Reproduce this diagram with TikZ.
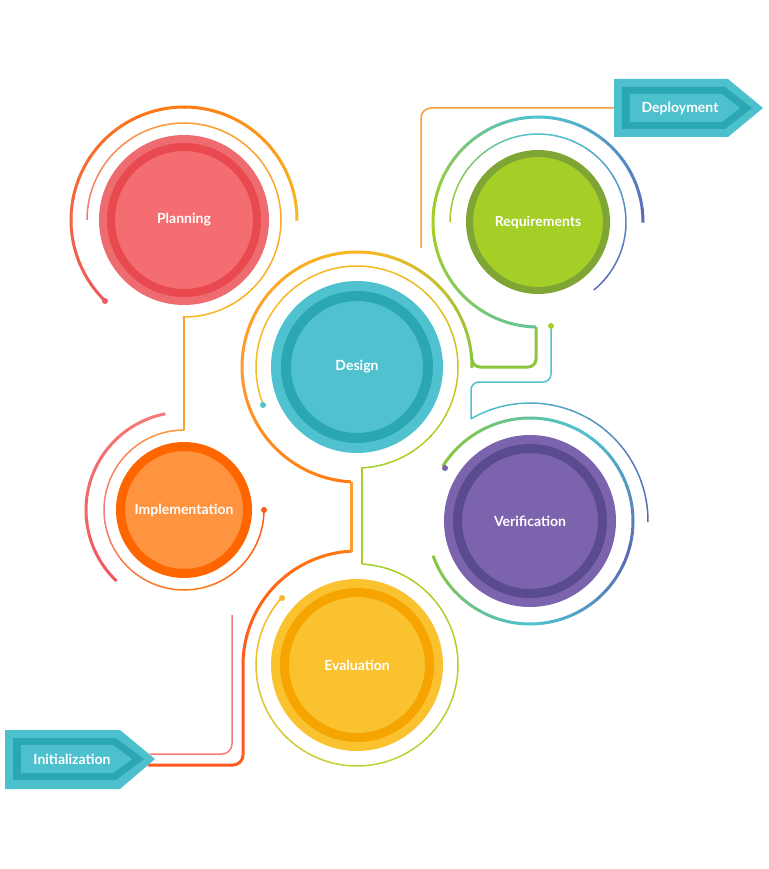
\documentclass[tikz,border=0pt]{standalone}
\usepackage{fontspec}
\setmainfont{Lato}
\definecolor{tagL}{HTML}{4DC0CE}
\definecolor{tagD}{HTML}{2AA7B2}
\definecolor{cRed}{HTML}{EE5A5E}
\definecolor{cSal}{HTML}{F47C78}
\definecolor{cOrR}{HTML}{FF5A1F}
\definecolor{cOr}{HTML}{FF7A10}
\definecolor{cOr2}{HTML}{FF9A30}
\definecolor{cYel}{HTML}{F9B823}
\definecolor{cYG}{HTML}{C2D238}
\definecolor{cGr}{HTML}{8CC63F}
\definecolor{cLime}{HTML}{A5CE26}
\definecolor{cTG}{HTML}{62C59A}
\definecolor{cTeal}{HTML}{4FC1CF}
\definecolor{cBlue}{HTML}{5A6BB5}
\definecolor{cPur}{HTML}{7B63AD}
\definecolor{cPurD}{HTML}{5A4A8E}
\definecolor{plO}{HTML}{EE6B70}
\definecolor{plI}{HTML}{F46E71}
\definecolor{plD}{HTML}{E84A4F}
\definecolor{imI}{HTML}{FF9440}
\definecolor{imD}{HTML}{FF6600}
\definecolor{rqD}{HTML}{7FA535}
\definecolor{evO}{HTML}{FBC22F}
\definecolor{evD}{HTML}{F6A400}
\newcommand\garc[8]{%
 \foreach \i in {0,...,11}{%
  \pgfmathsetmacro\sa{#4+(#5-#4)*\i/12}%
  \pgfmathsetmacro\ea{#4+(#5-#4)*(\i+1.05)/12}%
  \pgfmathtruncatemacro\pc{100*\i/11}%
  \draw[line width=#8, color=#7!\pc!#6] (#1,#2) ++(\sa:#3) arc[start angle=\sa, end angle=\ea, radius=#3];
 }}
\tikzset{
 lbl/.style={text=white,font=\bfseries\fontsize{14}{16}\selectfont},
 ball/.style={circle,inner sep=0pt,lbl},
 dotm/.style={circle,inner sep=0pt,minimum size=6pt},
 thin/.style={line width=1.5pt},
 thick/.style={line width=3pt},
}
\begin{document}
\begin{tikzpicture}[x=1pt,y=-1pt]
\useasboundingbox (0,0) rectangle (768,869);
% ---- Planning arcs
\garc{184}{220}{113}{134}{270}{cRed}{cOr}{3pt}
\garc{184}{220}{113}{270}{360}{cOr}{cYel}{3pt}
\node[dotm,fill=cRed] (pdot) at (105,301) {};
\garc{184}{220}{97}{180}{270}{cSal}{cOr2}{1.5pt}
\garc{184}{220}{97}{270}{450}{cOr2}{cYel}{1.5pt}
\draw[thin,cOr2] (184,317) -- (184,430);
% ---- Implementation arcs
\garc{184}{510}{98}{259}{134}{cSal}{cRed}{3pt}
\garc{184}{510}{80}{270}{180}{cOr2}{cSal}{1.5pt}
\garc{184}{510}{80}{180}{90}{cSal}{cOr}{1.5pt}
\garc{184}{510}{80}{90}{0}{cOr}{cOrR}{1.5pt}
\node[dotm,fill=cOrR] (idot) at (264,510) {};
% ---- Initialization lines
\draw[thin,cSal,rounded corners=10] (150,754) -| (232,615);
\draw[thick,cOrR,rounded corners=10] (148,765) -| (243,665);
% ---- long thick path
\garc{357}{665}{114}{180}{267}{cOrR}{cOr}{3pt}
\draw[thick,cOr2] (351,552) -- (351,482);
\garc{357}{367}{115}{93}{180}{cOr}{cOr2}{3pt}
\garc{357}{367}{115}{180}{270}{cOr2}{cYel}{3pt}
\garc{357}{367}{115}{270}{360}{cYel}{cGr}{3pt}
\draw[thick,cGr,rounded corners=8] (472,366) |- (536,367) -- (536,327);
\garc{538}{222}{105}{91}{180}{cTG}{cLime}{3pt}
\garc{538}{222}{105}{180}{270}{cLime}{cTeal}{3pt}
\garc{538}{222}{105}{270}{360}{cTeal}{cBlue}{3pt}
% ---- Deployment line
\draw[thin,cOr2,rounded corners=10] (614,108) -| (421,248);
% ---- Requirements inner
\garc{538}{222}{88}{180}{270}{cLime}{cTeal}{1.5pt}
\garc{538}{222}{88}{270}{410}{cTeal}{cBlue}{1.5pt}
% ---- Verification
\node[dotm,fill=cLime] (rdot) at (551,326) {};
\draw[thin,cTeal,rounded corners=8] (rdot) |- (471,382) -- (471,419);
\garc{530}{521}{118}{240}{360}{cTeal}{cBlue}{1.5pt}
\garc{530}{521}{103}{212}{300}{cGr}{cTeal}{3pt}
\garc{530}{521}{103}{300}{380}{cTeal}{cBlue}{3pt}
\garc{530}{521}{103}{380}{450}{cBlue}{cTeal}{3pt}
\garc{530}{521}{103}{450}{520}{cTeal}{cGr}{3pt}
\node[dotm,fill=cPur] (vdot) at (445,468) {};
% ---- Design inner / Evaluation inner
\garc{357}{367}{101}{158}{270}{cYel}{cYel}{1.5pt}
\garc{357}{367}{101}{270}{447}{cYel}{cLime}{1.5pt}
\node[dotm,fill=cTeal] (ddot) at (263,405) {};
\draw[thin,cLime] (362,468) -- (362,564);
\garc{357}{665}{101}{273}{450}{cLime}{cYG}{1.5pt}
\garc{357}{665}{101}{450}{582}{cYG}{cYel}{1.5pt}
\node[dotm,fill=cYel] (edot) at (282,598) {};
% ---- Circles
\fill[plO] (184,220) circle[radius=85];
\node[ball,fill=plI,draw=plD,line width=8pt,minimum size=146pt] (plan) at (184,220) {Planning};
\node[ball,fill=imI,draw=imD,line width=9pt,minimum size=127pt] (impl) at (184,510) {Implementation};
\node[ball,fill=cLime,draw=rqD,line width=7pt,minimum size=137pt] (req) at (538,222) {Requirements};
\fill[cTeal] (357,367) circle[radius=86];
\node[ball,fill=cTeal,draw=tagD,line width=10pt,minimum size=142pt] (des) at (357,367) {Design};
\fill[cPur] (530,521) circle[radius=86];
\node[ball,fill=cPur,draw=cPurD,line width=9pt,minimum size=145pt] (ver) at (530,521) {Verification};
\fill[evO] (357,665) circle[radius=86];
\node[ball,fill=evO,draw=evD,line width=9pt,minimum size=145pt] (eva) at (357,665) {Evaluation};
% ---- Tags
\fill[tagL] (614,79) -- (728,79) -- (763,108) -- (728,137) -- (614,137) -- cycle;
\fill[tagD] (622,87) -- (725,87) -- (752,108) -- (725,129) -- (622,129) -- cycle;
\fill[tagL] (630,94) -- (722,94) -- (740,108) -- (722,122) -- (630,122) -- cycle;
\node[lbl] (dep) at (680,108) {Deployment};
\fill[tagL] (5,730) -- (120,730) -- (155,759) -- (120,789) -- (5,789) -- cycle;
\fill[tagD] (13,738) -- (116,738) -- (144,759) -- (116,780) -- (13,780) -- cycle;
\fill[tagL] (21,745) -- (113,745) -- (132,759) -- (113,773) -- (21,773) -- cycle;
\node[lbl] (ini) at (72,759) {Initialization};
\end{tikzpicture}
\end{document}
